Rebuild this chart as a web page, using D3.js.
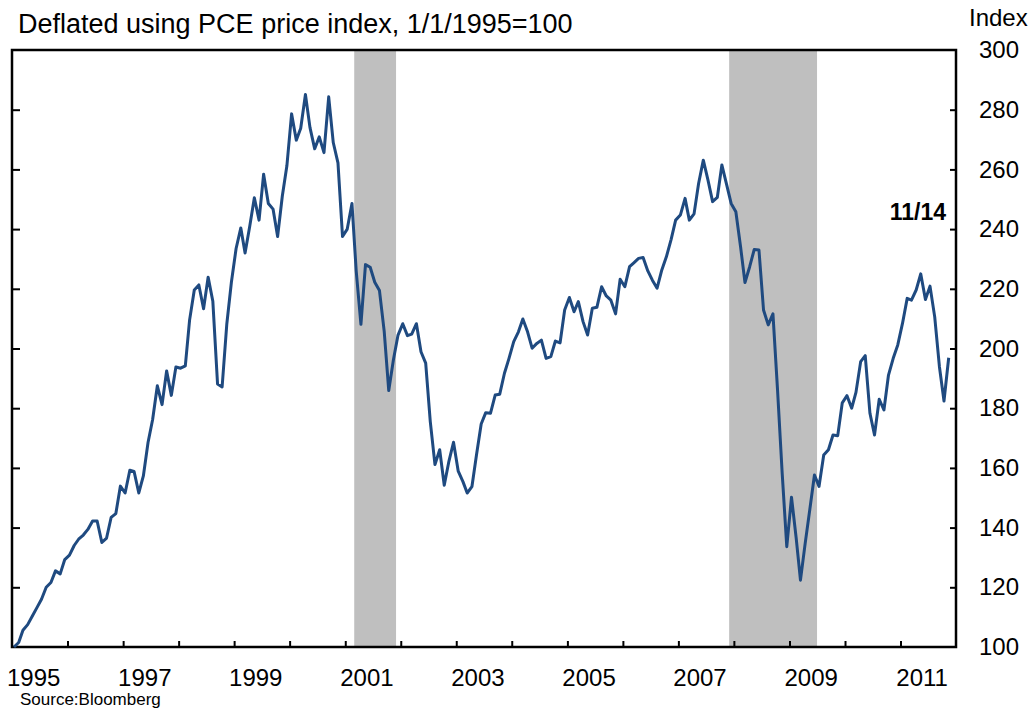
<!DOCTYPE html>
<html>
<head>
<meta charset="utf-8">
<script src="https://cdnjs.cloudflare.com/ajax/libs/d3/7.8.5/d3.min.js"></script>
<style>
body { margin: 0; background: #fff; }
text { font-family: "Liberation Sans", Arial, sans-serif; fill: #000; }
</style>
</head>
<body>
<div id="chart"></div>
<script>
// monthly readings, Jan 1995 .. Nov 2011 (1/1/1995 = 100)
var values = [
    100, 101.5, 105.6, 107.5, 110.3, 113.2, 116, 120, 121.6, 125.5, 124.5, 129.3,
    130.8, 134, 136.1, 137.5, 139.4, 142.2, 142.2, 135, 136.5, 143.4, 144.7, 153.9,
    151.6, 159.2, 158.8, 151.6, 157.3, 168.6, 176.2, 187.5, 181.2, 192.5, 184.3, 193.8,
    193.4, 194.2, 209.5, 219.6, 221.3, 213.3, 223.9, 215.8, 188.1, 187.1, 208.3, 222.2,
    233.5, 240.4, 232, 241, 250.5, 243, 258.4, 248.6, 246.7, 237.5, 251.1, 261.2,
    278.6, 269.8, 273.8, 285.1, 274, 266.9, 270.9, 265.6, 284.3, 269, 262.2, 237.5,
    240, 248.6, 225.9, 208.1, 228.1, 227.2, 222.2, 219.4, 205.8, 185.9, 196.3, 204.5,
    208.3, 204.3, 204.8, 208.3, 198.9, 195.1, 175.6, 161.1, 166.1, 154.2, 162.3, 168.6,
    158.9, 155.4, 151.6, 153.7, 164.3, 174.7, 178.5, 178.3, 184.4, 184.7, 191.7, 196.7,
    202.3, 205.6, 209.9, 205.6, 200.1, 201.7, 202.8, 196.7, 197.3, 202.5, 201.9, 212.9,
    217.1, 212.3, 215.7, 209, 204.5, 213.5, 213.8, 220.7, 217.6, 216.2, 211.6, 223.2,
    220.7, 227.4, 228.7, 230.2, 230.5, 226, 222.9, 220.2, 226.3, 230.7, 236.5, 243,
    244.7, 250.3, 243, 245.1, 255.3, 263.1, 256.6, 249.2, 250.6, 261.5, 255, 248.6,
    245.8, 234.1, 222.1, 227.4, 233.2, 233, 212.9, 207.9, 211.6, 186.3, 158, 133.6,
    150.2, 136.4, 122.4, 134.7, 145.9, 157.6, 153.8, 164.3, 166.1, 171, 170.8, 181.8,
    184.2, 180, 185.3, 195.6, 197.6, 178.3, 171, 183, 179.4, 191.1, 196.7, 201.2,
    208.4, 216.8, 216.2, 219.6, 225, 216.4, 220.9, 210.6, 193.9, 182.4, 196.9
];
var firstDate = "1995-01-14";
var recessions = [["2001-03-01", "2001-12-01"], ["2007-12-01", "2009-07-01"]];
var yTicks = [100, 120, 140, 160, 180, 200, 220, 240, 260, 280, 300];
var yearLabels = [1995, 1997, 1999, 2001, 2003, 2005, 2007, 2009, 2011];
var titleText = "Deflated using PCE price index, 1/1/1995=100";
var unitText = "Index";
var sourceText = "Source:Bloomberg";
var lastLabel = "11/14";

var w = 1035, h = 708;
var plotLeft = 12, plotRight = 956, plotTop = 50, plotBottom = 647;

var parse = d3.timeParse("%Y-%m-%d");
var start = parse(firstDate);
var data = values.map(function(v, i) {
    return { date: d3.timeMonth.offset(start, i), value: v };
});

var svg = d3.select("#chart")
    .append("svg")
    .attr("width", w)
    .attr("height", h);

var x = d3.scaleTime()
    .domain([new Date(1995, 0, 1), new Date(2012, 0, 1)])
    .range([plotLeft, plotRight]);

var y = d3.scaleLinear()
    .domain([100, 300])
    .range([plotBottom, plotTop]);

// recession shading
svg.selectAll("rect.rec")
    .data(recessions)
    .enter()
    .append("rect")
    .attr("class", "rec")
    .attr("x", function(d) { return x(parse(d[0])); })
    .attr("width", function(d) { return x(parse(d[1])) - x(parse(d[0])); })
    .attr("y", y(300))
    .attr("height", y(100) - y(300))
    .style("fill", "#bfbfbf");

// inward ticks
var years = d3.timeYear.range(new Date(1996, 0, 1), new Date(2012, 0, 1));
svg.append("g")
    .attr("transform", "translate(0," + plotBottom + ")")
    .call(d3.axisBottom(x).tickValues(years).tickSize(-6).tickFormat(""))
    .call(function(g) { g.select(".domain").remove(); })
    .selectAll("line").attr("stroke", "#000").attr("stroke-width", 2);

svg.append("g")
    .attr("transform", "translate(" + plotLeft + ",0)")
    .call(d3.axisRight(y).tickValues(yTicks.slice(1, -1)).tickSize(8).tickFormat(""))
    .call(function(g) { g.select(".domain").remove(); })
    .selectAll("line").attr("stroke", "#000").attr("stroke-width", 2);

svg.append("g")
    .attr("transform", "translate(" + plotRight + ",0)")
    .call(d3.axisLeft(y).tickValues(yTicks.slice(1, -1)).tickSize(6).tickFormat(""))
    .call(function(g) { g.select(".domain").remove(); })
    .selectAll("line").attr("stroke", "#000").attr("stroke-width", 2);

// frame
svg.append("rect")
    .attr("x", plotLeft)
    .attr("y", plotTop)
    .attr("width", plotRight - plotLeft)
    .attr("height", plotBottom - plotTop)
    .style("fill", "none")
    .style("stroke", "#000")
    .style("stroke-width", 2.5);

// tick labels
var yLab = svg.append("g")
    .attr("transform", "translate(" + plotRight + ",0)")
    .call(d3.axisRight(y).tickValues(yTicks).tickSize(0).tickPadding(23).tickFormat(d3.format("d")));
yLab.select(".domain").remove();
yLab.selectAll("text")
    .attr("font-family", "Liberation Sans, Arial, sans-serif")
    .attr("font-size", "24px")
    .attr("fill", "#000");

var xLab = svg.append("g")
    .attr("transform", "translate(0," + plotBottom + ")")
    .call(d3.axisBottom(x)
        .tickValues(yearLabels.map(function(yr) { return new Date(yr, 4, 20); }))
        .tickSize(0)
        .tickPadding(22)
        .tickFormat(d3.timeFormat("%Y")));
xLab.select(".domain").remove();
xLab.selectAll("text")
    .attr("font-family", "Liberation Sans, Arial, sans-serif")
    .attr("font-size", "24px")
    .attr("fill", "#000");

// series
var line = d3.line()
    .x(function(d) { return x(d.date); })
    .y(function(d) { return y(d.value); });

svg.append("path")
    .datum(data)
    .attr("d", line)
    .style("fill", "none")
    .style("stroke", "#1f4a80")
    .style("stroke-width", 3)
    .style("stroke-linejoin", "round");

// texts
svg.append("text")
    .attr("x", 18)
    .attr("y", 33)
    .attr("font-size", "27px")
    .text(titleText);

svg.append("text")
    .attr("x", 969)
    .attr("y", 26)
    .attr("font-size", "24px")
    .text(unitText);

svg.append("text")
    .attr("x", 946)
    .attr("y", 220)
    .attr("text-anchor", "end")
    .attr("font-size", "23px")
    .attr("font-weight", "bold")
    .text(lastLabel);

svg.append("text")
    .attr("x", 20)
    .attr("y", 705)
    .attr("font-size", "17px")
    .text(sourceText);
</script>
</body>
</html>
